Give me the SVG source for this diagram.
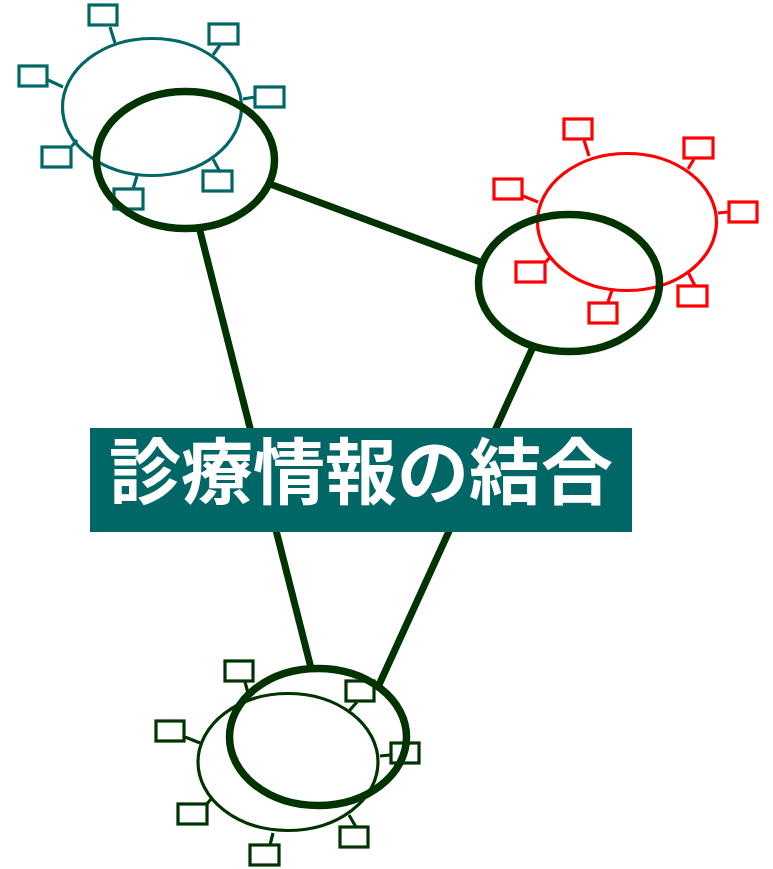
<svg xmlns="http://www.w3.org/2000/svg" width="773" height="869" viewBox="0 0 773 869">
<style>
.thick{fill:none;stroke:#003300;stroke-width:7.5}
.conn{fill:none;stroke:#003300;stroke-width:7}
.teal{fill:none;stroke:#006666;stroke-width:3.2}
.red{fill:none;stroke:#FF0000;stroke-width:3.2}
.dg{fill:none;stroke:#003300;stroke-width:3.2}
.lbl{font-family:"Noto Sans CJK JP","Noto Sans CJK SC",sans-serif;font-weight:bold;font-size:72px;fill:#FFFFFF}
</style>
<g id="connectors">
<line class="conn" x1="270" y1="184" x2="483" y2="263"/>
<line class="conn" x1="199" y1="227" x2="311" y2="668"/>
<line class="conn" x1="533" y1="347" x2="378" y2="687"/>
</g>
<g id="cluster-teal">
<path class="teal" d="M110,27 L115,43 M220,45 L213,55 M48,80 L63,87 M243,99 L255,97 M72,146 L77,140 M137,176 L133,189 M213,159 L220,172"/>
<ellipse class="teal" cx="152" cy="107" rx="89.5" ry="68.5"/>
<rect class="teal" x="89" y="5" width="28" height="20"/>
<rect class="teal" x="209" y="24" width="29" height="20"/>
<rect class="teal" x="19" y="66" width="28" height="20"/>
<rect class="teal" x="255" y="87" width="29" height="20"/>
<rect class="teal" x="42" y="147" width="29" height="20"/>
<rect class="teal" x="114" y="189" width="29" height="20"/>
<rect class="teal" x="203" y="171" width="29" height="20"/>
</g>
<g id="node-top-left">
<ellipse class="thick" cx="185.5" cy="160" rx="89" ry="68.5"/>
</g>
<g id="cluster-red">
<path class="red" d="M584,140 L589,156 M694,159 L688,169 M523,196 L538,202 M718,213 L728,212 M546,262 L550,257 M612,290 L608,302 M688,272 L695,286"/>
<ellipse class="red" cx="627" cy="222" rx="89.5" ry="68.5"/>
<rect class="red" x="564" y="119" width="28" height="20"/>
<rect class="red" x="684" y="138" width="29" height="20"/>
<rect class="red" x="494" y="179" width="28" height="20"/>
<rect class="red" x="729" y="202" width="28" height="20"/>
<rect class="red" x="516" y="262" width="29" height="20"/>
<rect class="red" x="589" y="303" width="28" height="20"/>
<rect class="red" x="678" y="286" width="29" height="20"/>
</g>
<g id="node-right">
<ellipse class="thick" cx="569" cy="283" rx="90.5" ry="68.5"/>
</g>
<g id="node-bottom">
<ellipse class="thick" cx="318" cy="737" rx="88.5" ry="68.5"/>
</g>
<g id="cluster-bottom">
<path class="dg" d="M245,682 L248,693 M357,702 L349,711 M185,737 L200,743 M380,756 L390,755 M206,805 L211,799 M273,833 L270,845 M349,815 L356,827"/>
<ellipse class="dg" cx="288" cy="762" rx="90" ry="68.5"/>
<rect class="dg" x="225" y="661" width="28" height="20"/>
<rect class="dg" x="346" y="681" width="28" height="20"/>
<rect class="dg" x="156" y="721" width="28" height="20"/>
<rect class="dg" x="391" y="743" width="28" height="20"/>
<rect class="dg" x="178" y="804" width="29" height="20"/>
<rect class="dg" x="250" y="845" width="29" height="20"/>
<rect class="dg" x="340" y="827" width="28" height="20"/>
</g>
<g id="label">
<rect x="90" y="428" width="542" height="104" fill="#006666"/>
<text class="lbl" x="361" y="498" text-anchor="middle">診療情報の結合</text>
</g>
</svg>
